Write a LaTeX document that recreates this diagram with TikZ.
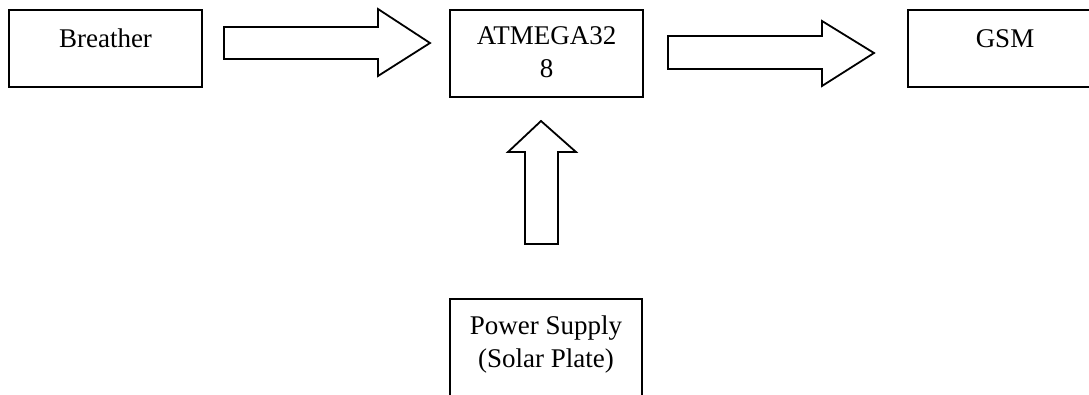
\documentclass[tikz,border=0pt]{standalone}
\usepackage{fontspec}
\setmainfont{Liberation Serif}
\begin{document}
\begin{tikzpicture}[x=1pt,y=-1pt,
  blk/.style={draw=black, line width=1.8pt, inner sep=0pt, anchor=base,
    align=center, font=\fontsize{27}{33}\selectfont},
  blockarrow/.style={draw=black, line width=1.8pt, line join=miter, fill=white}]
\useasboundingbox (0,0) rectangle (1089,394);
\node[blk, minimum width=193pt, text height=37pt, text depth=40pt] (breather) at (105.5,47) {Breather};
\node[blk, minimum width=193pt, text height=67pt, text depth=20pt] (mcu) at (546.5,77) {ATMEGA32\\8};
\node[blk, minimum width=194pt, text height=37pt, text depth=40pt] (gsm) at (1005,47) {GSM};
\node[blk, minimum width=192pt, text height=68pt, text depth=53pt] (power) at (546,367) {Power Supply\\(Solar Plate)};
% block arrows
\draw[blockarrow] (224,27) -- (378,27) -- (378,9) -- (430,43) -- (378,76) -- (378,59) -- (224,59) -- cycle;
\draw[blockarrow] (668,36) -- (822,36) -- (822,21) -- (874,53) -- (822,86) -- (822,69) -- (668,69) -- cycle;
\draw[blockarrow] (525,244) -- (525,152) -- (508,152) -- (541,121) -- (576,152) -- (558,152) -- (558,244) -- cycle;
\end{tikzpicture}
\end{document}
